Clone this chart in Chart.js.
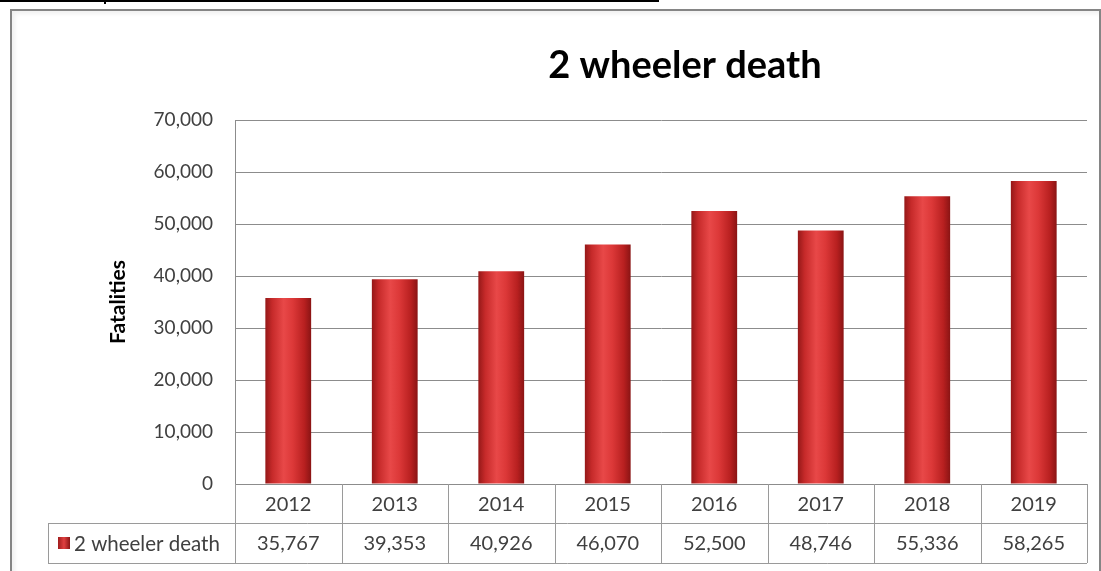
<!DOCTYPE html>
<html lang="en">
<head>
  <meta charset="UTF-8">
  <title>2 wheeler death</title>
  <script src="https://cdn.jsdelivr.net/npm/chart.js"></script>
  <style>
    body { margin: 0; background: #fff; }
    .wrap { position: relative; width: 1101px; height: 571px; overflow: hidden; }
    .topline { position: absolute; left: 0; top: 0; width: 659px; height: 2px; background: #000; }
    .topline-tick { position: absolute; left: 104px; top: 0; width: 2px; height: 4px; background: #000; }
    .frame {
      position: absolute; left: 10px; top: 9px; width: 1087px; height: 600px;
      border: 2px solid #858585;
      box-shadow: inset 3px 3px 4px rgba(0,0,0,0.06);
    }
    .chart-container { position: absolute; left: 0; top: 0; width: 1101px; height: 571px; }
  </style>
</head>
<body>
  <div class="wrap">
    <div class="topline"></div>
    <div class="topline-tick"></div>
    <div class="frame"></div>
    <div class="chart-container">
      <canvas id="deathChart"></canvas>
    </div>
  </div>
  <script>
    const years = ['2012', '2013', '2014', '2015', '2016', '2017', '2018', '2019'];
    const deaths = [35767, 39353, 40926, 46070, 52500, 48746, 55336, 58265];
    const seriesName = '2 wheeler death';
    const yTicks = { min: 0, max: 70000, step: 10000 };

    const textColor = '#404040';
    const lineColor = '#8c8c8c';
    const fmt = v => Number(v).toLocaleString('en-US');

    // cylinder-ish shading for each bar, built from the bar's own x position
    function barGradient(ctx) {
      const chart = ctx.chart;
      const xs = chart.scales.x;
      if (!xs || ctx.dataIndex === undefined) return '#c62828';
      const cx = xs.getPixelForValue(ctx.dataIndex);
      const half = (xs.width / years.length) * 0.43 / 2;
      if (!isFinite(cx) || !isFinite(half) || half <= 0) return '#c62828';
      const g = chart.ctx.createLinearGradient(cx - half, 0, cx + half, 0);
      g.addColorStop(0, '#951818');
      g.addColorStop(0.15, '#c62a2a');
      g.addColorStop(0.4, '#e84848');
      g.addColorStop(0.6, '#dc3838');
      g.addColorStop(0.85, '#b82020');
      g.addColorStop(1, '#8a1414');
      return g;
    }

    const tablePlugin = {
      id: 'dataTable',
      afterDraw(chart) {
        const c = chart.ctx;
        const xs = chart.scales.x;
        const area = chart.chartArea;
        const catW = xs.width / years.length;
        const row1Top = area.bottom;
        const row2Top = area.bottom + 39;
        const row2Bot = area.bottom + 79;
        const tableLeft = 48;

        c.save();
        c.strokeStyle = '#9a9a9a';
        c.lineWidth = 1;
        c.beginPath();
        // horizontal lines
        c.moveTo(tableLeft, row2Top + 0.5); c.lineTo(area.right, row2Top + 0.5);
        c.moveTo(tableLeft, row2Bot + 0.5); c.lineTo(area.right, row2Bot + 0.5);
        c.moveTo(tableLeft + 0.5, row2Top); c.lineTo(tableLeft + 0.5, row2Bot);
        // vertical dividers
        for (let i = 0; i <= years.length; i++) {
          const x = Math.round(area.left + i * catW) + 0.5;
          c.moveTo(x, row1Top); c.lineTo(x, row2Bot);
        }
        c.stroke();

        // values row
        c.fillStyle = textColor;
        c.font = '20px Lato';
        c.textAlign = 'center';
        c.textBaseline = 'middle';
        deaths.forEach((v, i) => {
          c.fillText(fmt(v), xs.getPixelForValue(i), (row2Top + row2Bot) / 2 + 1);
        });

        // legend key + series name
        const my = (row2Top + row2Bot) / 2;
        const kg = c.createLinearGradient(58, 0, 70, 0);
        kg.addColorStop(0, '#a01c1c');
        kg.addColorStop(0.5, '#e04040');
        kg.addColorStop(1, '#8a1414');
        c.fillStyle = kg;
        c.fillRect(58, my - 6, 12, 12);
        c.fillStyle = textColor;
        c.textAlign = 'left';
        c.font = '20.5px Lato';
        c.fillText(seriesName, 74, my + 1);

        // chart title
        c.fillStyle = '#000';
        c.font = 'bold 38px Lato';
        c.textAlign = 'center';
        c.fillText(seriesName, 685, 66);
        c.restore();
      }
    };

    new Chart(document.getElementById('deathChart'), {
      type: 'bar',
      data: {
        labels: years,
        datasets: [{
          label: seriesName,
          data: deaths,
          backgroundColor: barGradient,
          borderWidth: 0,
          categoryPercentage: 1,
          barPercentage: 0.43
        }]
      },
      options: {
        responsive: true,
        maintainAspectRatio: false,
        animation: false,
        layout: { padding: { left: 100, right: 14, top: 120, bottom: 0 } },
        plugins: {
          legend: { display: false },
          tooltip: { enabled: false },
          title: { display: false }
        },
        scales: {
          x: {
            grid: { display: false, drawTicks: false },
            border: { display: false },
            ticks: { color: textColor, font: { family: 'Lato', size: 20 }, padding: 9 },
            afterFit(scale) { scale.height = 87; }
          },
          y: {
            min: yTicks.min,
            max: yTicks.max,
            grid: { color: lineColor, drawTicks: false },
            border: { display: true, color: lineColor },
            ticks: {
              stepSize: yTicks.step,
              color: textColor,
              font: { family: 'Lato', size: 19 },
              padding: 22,
              callback: v => fmt(v)
            },
            title: {
              display: true,
              text: 'Fatalities',
              color: '#000',
              font: { family: 'Lato', size: 21, weight: 'bold' },
              padding: { top: 6, bottom: 0 }
            },
            afterFit(scale) { scale.width = 135; }
          }
        }
      },
      plugins: [tablePlugin]
    });
  </script>
</body>
</html>
